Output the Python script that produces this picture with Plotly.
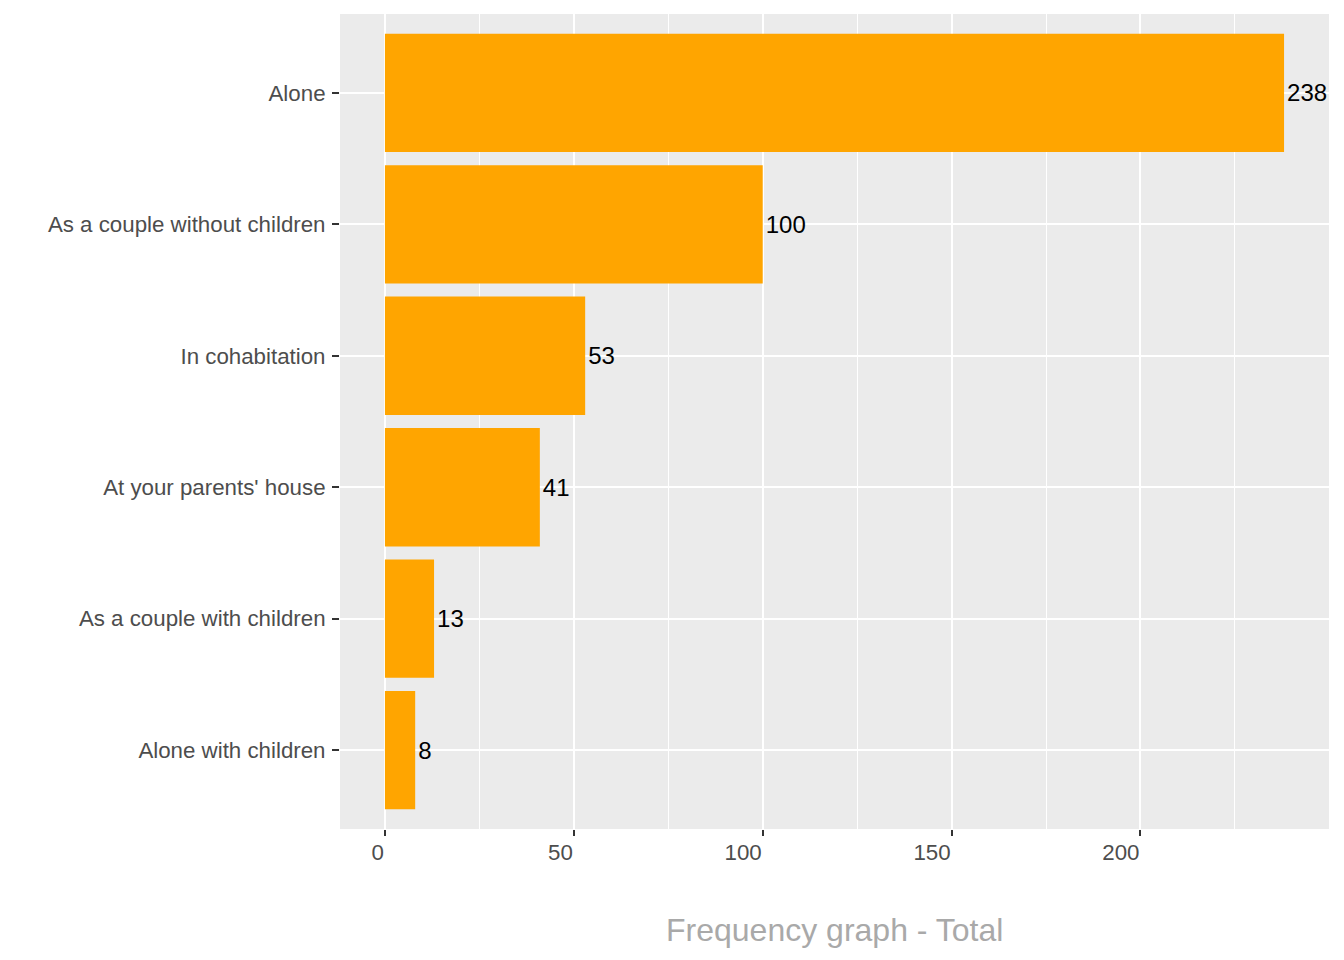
import plotly.graph_objects as go

categories = ["Alone", "As a couple without children", "In cohabitation",
              "At your parents' house", "As a couple with children", "Alone with children"]
counts = [238, 100, 53, 41, 13, 8]
x_ticks = [0, 50, 100, 150, 200]
x_tick_labels = ["0", "50", "100", "150", "200"]
title_text = "Frequency graph - Total"

FONT = "Liberation Sans, Arial, sans-serif"

fig = go.Figure()
fig.add_trace(go.Bar(
    x=counts, y=categories, orientation="h",
    marker=dict(color="#FFA500", line=dict(width=0)),
    width=0.9,
    text=[str(c) for c in counts], textposition="outside",
    textfont=dict(family=FONT, size=24, color="#000000"),
    cliponaxis=False, constraintext="none",
    hoverinfo="skip",
))

xmax = max(counts)
pad = xmax * 0.05
fig.update_layout(
    width=1336, height=952,
    margin=dict(l=332, r=15, t=6, b=131),
    plot_bgcolor="#EBEBEB", paper_bgcolor="#FFFFFF",
    showlegend=False,
    font=dict(family=FONT),
    bargap=0.1,
)
fig.update_xaxes(
    range=[-pad, xmax + pad],
    tickmode="array", tickvals=x_ticks, ticktext=x_tick_labels,
    ticks="outside", ticklen=6, tickwidth=2, tickcolor="#333333",
    ticklabelposition="outside left",
    ticklabelstandoff=3,
    tickfont=dict(family=FONT, size=22.3, color="#4D4D4D"),
    showgrid=True, gridcolor="#FFFFFF", gridwidth=2,
    minor=dict(dtick=25, tick0=0, showgrid=True, gridcolor="#FFFFFF", gridwidth=1, ticks=""),
    zeroline=False, showline=False,
)
fig.update_yaxes(
    categoryorder="array", categoryarray=list(reversed(categories)),
    range=[-0.6, len(categories) - 0.4],
    ticks="outside", ticklen=7, tickwidth=2, tickcolor="#333333",
    tickfont=dict(family=FONT, size=22.3, color="#4D4D4D"),
    ticklabelstandoff=2,
    showgrid=True, gridcolor="#FFFFFF", gridwidth=2,
    zeroline=False, showline=False,
)
fig.add_annotation(
    text=title_text, xref="paper", yref="paper", x=0.5, y=-101/815,
    xanchor="center", yanchor="middle", showarrow=False,
    font=dict(family=FONT, size=32, color="#A9A9A9"),
)

fig.write_html("out.html")
